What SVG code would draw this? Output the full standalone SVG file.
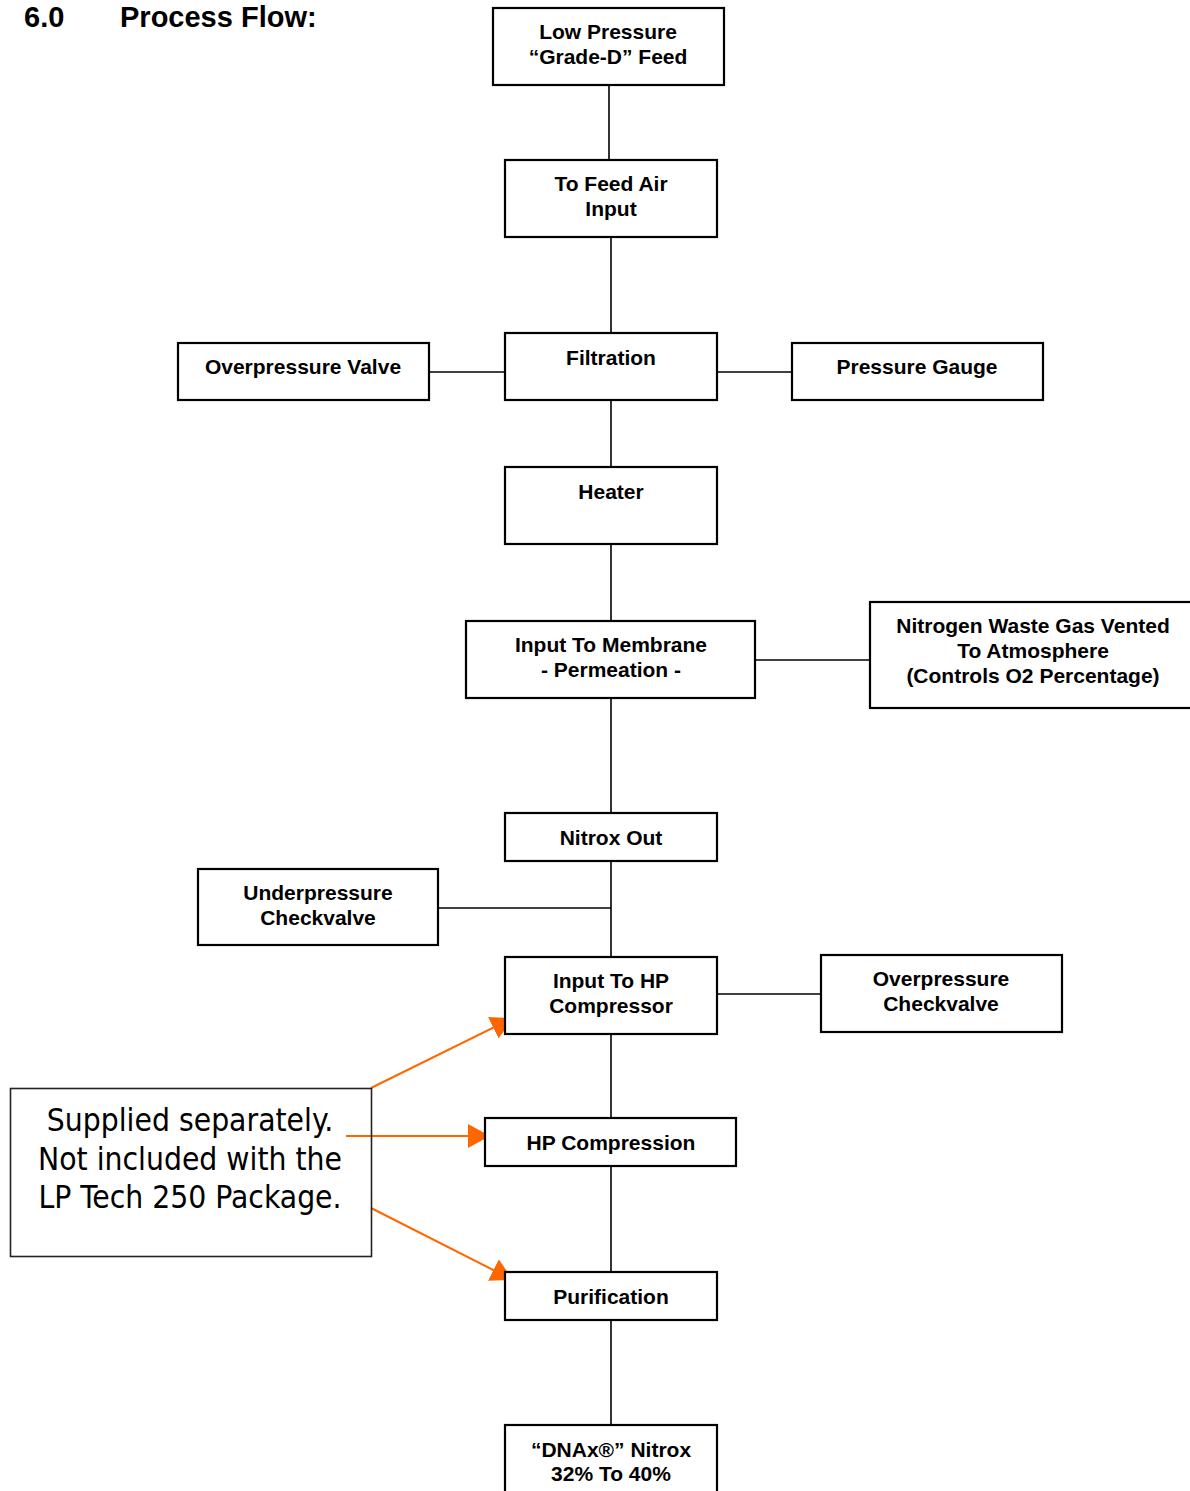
<svg xmlns="http://www.w3.org/2000/svg" width="1190" height="1491" viewBox="0 0 1190 1491">
<style>
.box{fill:#fff;stroke:#000;stroke-width:2.2}
.lbl{font-family:"Liberation Sans",Arial,sans-serif;font-weight:bold;font-size:21px;text-anchor:middle;fill:#000}
.con{stroke:#000;stroke-width:1.6;fill:none}
.or{stroke:#ff6600;stroke-width:2;fill:none}
.note{font-family:"DejaVu Sans Condensed","DejaVu Sans",sans-serif;font-stretch:condensed;font-size:31.5px;text-anchor:middle;fill:#000}
</style>
<defs>
<marker id="oa" markerUnits="userSpaceOnUse" markerWidth="24" markerHeight="24" refX="22" refY="12" orient="auto">
<path d="M0,0 L22,12 L0,24 Z" fill="#ff6600"/>
</marker>
</defs>
<rect width="1190" height="1491" fill="#fff"/>
<text x="24" y="27" style="font-family:'Liberation Sans',Arial,sans-serif;font-weight:bold;font-size:29px">6.0</text>
<text x="120" y="27" style="font-family:'Liberation Sans',Arial,sans-serif;font-weight:bold;font-size:29px">Process Flow:</text>
<g id="connectors">
<line class="con" x1="609" y1="85" x2="609" y2="160"/>
<line class="con" x1="611" y1="237" x2="611" y2="333"/>
<line class="con" x1="429" y1="372" x2="505" y2="372"/>
<line class="con" x1="717" y1="372" x2="792" y2="372"/>
<line class="con" x1="611" y1="400" x2="611" y2="467"/>
<line class="con" x1="611" y1="544" x2="611" y2="621"/>
<line class="con" x1="755" y1="660" x2="870" y2="660"/>
<line class="con" x1="611" y1="698" x2="611" y2="813"/>
<line class="con" x1="611" y1="861" x2="611" y2="957"/>
<line class="con" x1="438" y1="908" x2="611" y2="908"/>
<line class="con" x1="717" y1="994" x2="821" y2="994"/>
<line class="con" x1="611" y1="1034" x2="611" y2="1118"/>
<line class="con" x1="611" y1="1166" x2="611" y2="1272"/>
<line class="con" x1="611" y1="1320" x2="611" y2="1425"/>
<line class="or" x1="371" y1="1088" x2="513" y2="1018" marker-end="url(#oa)"/>
<line class="or" x1="346" y1="1136" x2="490" y2="1136" marker-end="url(#oa)"/>
<line class="or" x1="371" y1="1208" x2="513" y2="1280" marker-end="url(#oa)"/>
</g>
<g id="n-feed"><rect class="box" x="493" y="8" width="231" height="77"/><text class="lbl" x="608" y="39">Low Pressure</text><text class="lbl" x="608" y="64">“Grade-D” Feed</text></g>
<g id="n-feedair"><rect class="box" x="505" y="160" width="212" height="77"/><text class="lbl" x="611" y="191">To Feed Air</text><text class="lbl" x="611" y="216">Input</text></g>
<g id="n-filtration"><rect class="box" x="505" y="333" width="212" height="67"/><text class="lbl" x="611" y="365">Filtration</text></g>
<g id="n-ovalve"><rect class="box" x="178" y="343" width="251" height="57"/><text class="lbl" x="303" y="374">Overpressure Valve</text></g>
<g id="n-gauge"><rect class="box" x="792" y="343" width="251" height="57"/><text class="lbl" x="917" y="374">Pressure Gauge</text></g>
<g id="n-heater"><rect class="box" x="505" y="467" width="212" height="77"/><text class="lbl" x="611" y="499">Heater</text></g>
<g id="n-membrane"><rect class="box" x="466" y="621" width="289" height="77"/><text class="lbl" x="611" y="652">Input To Membrane</text><text class="lbl" x="611" y="677">- Permeation -</text></g>
<g id="n-waste"><rect class="box" x="870" y="602" width="330" height="106"/><text class="lbl" x="1033" y="633">Nitrogen Waste Gas Vented</text><text class="lbl" x="1033" y="658">To Atmosphere</text><text class="lbl" x="1033" y="683">(Controls O2 Percentage)</text></g>
<g id="n-nitroxout"><rect class="box" x="505" y="813" width="212" height="48"/><text class="lbl" x="611" y="845">Nitrox Out</text></g>
<g id="n-under"><rect class="box" x="198" y="869" width="240" height="76"/><text class="lbl" x="318" y="900">Underpressure</text><text class="lbl" x="318" y="925">Checkvalve</text></g>
<g id="n-hpinput"><rect class="box" x="505" y="957" width="212" height="77"/><text class="lbl" x="611" y="988">Input To HP</text><text class="lbl" x="611" y="1013">Compressor</text></g>
<g id="n-overcheck"><rect class="box" x="821" y="955" width="241" height="77"/><text class="lbl" x="941" y="986">Overpressure</text><text class="lbl" x="941" y="1011">Checkvalve</text></g>
<g id="n-hpcomp"><rect class="box" x="485" y="1118" width="251" height="48"/><text class="lbl" x="611" y="1150">HP Compression</text></g>
<g id="n-purif"><rect class="box" x="505" y="1272" width="212" height="48"/><text class="lbl" x="611" y="1304">Purification</text></g>
<g id="n-dnax"><rect class="box" x="505" y="1425" width="212" height="80"/><text class="lbl" x="611" y="1457">“DNAx®” Nitrox</text><text class="lbl" x="611" y="1481">32% To 40%</text></g>
<g id="n-note"><rect x="10.5" y="1088.5" width="361" height="168" fill="none" stroke="#222" stroke-width="1.6"/><text class="note" x="190" y="1131">Supplied separately.</text><text class="note" x="190" y="1170">Not included with the</text><text class="note" x="190" y="1208">LP Tech 250 Package.</text></g>
</svg>
